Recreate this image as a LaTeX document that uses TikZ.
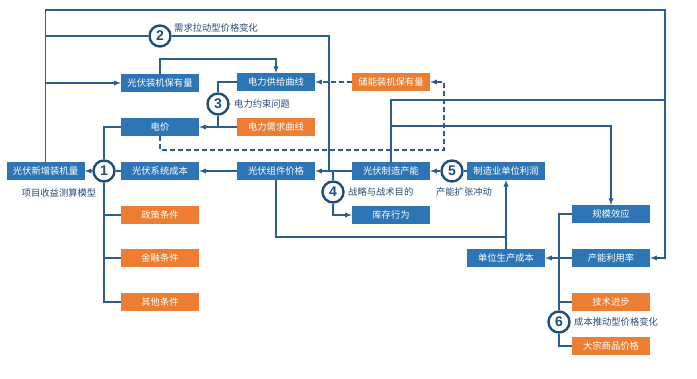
\documentclass[tikz,border=0pt]{standalone}
\usepackage{fontspec}
\setmainfont{Noto Sans CJK SC}
\newfontfamily\numfont{Liberation Sans}
\usetikzlibrary{arrows}
\definecolor{boxblue}{HTML}{2E75B6}
\definecolor{boxorange}{HTML}{ED7D31}
\definecolor{lineblue}{HTML}{2B5C92}
\definecolor{darkblue}{HTML}{1F4E79}
\definecolor{textblue}{HTML}{274B77}

\begin{document}
\begin{tikzpicture}[x=1pt,y=-1pt,>=latex,
  bx/.style={fill=boxblue,text=white,minimum width=78pt,minimum height=17.5pt,inner sep=0pt,font=\fontsize{9.3}{10}\selectfont},
  ox/.style={bx,fill=boxorange},
  num/.style={circle,draw=darkblue,line width=2.4pt,fill=white,minimum size=21pt,inner sep=0pt,text=darkblue,font=\numfont\bfseries\fontsize{14}{14}\selectfont},
  lab/.style={text=textblue,inner sep=0pt,font=\fontsize{9.3}{10}\selectfont},
  ln/.style={draw=lineblue,line width=1.3pt},
  dl/.style={ln,dashed,dash pattern=on 5pt off 3pt}]
 \useasboundingbox (0,0) rectangle (697,379);
 \node[bx] (xz) at (45.5,171) {光伏新增装机量};
 \node[bx] (cb) at (160,171) {光伏系统成本};
 \node[bx] (dj) at (160,127) {电价};
 \node[bx] (byl) at (160,83) {光伏装机保有量};
 \node[bx] (gj) at (276,82) {电力供给曲线};
 \node[ox] (xq) at (276,127) {电力需求曲线};
 \node[ox] (cn) at (391,82) {储能装机保有量};
 \node[bx] (zj) at (276,171) {光伏组件价格};
 \node[bx] (zz) at (391,171) {光伏制造产能};
 \node[bx] (kc) at (391,215) {库存行为};
 \node[bx] (lr) at (506,171) {制造业单位利润};
 \node[bx] (gm) at (611,214) {规模效应};
 \node[bx] (ly) at (611,258) {产能利用率};
 \node[bx] (dw) at (506,258) {单位生产成本};
 \node[ox] (js) at (611,302) {技术进步};
 \node[ox] (dz) at (611,346) {大宗商品价格};
 \node[ox] (zc) at (160,215) {政策条件};
 \node[ox] (jr) at (160,258) {金融条件};
 \node[ox] (qt) at (160,302) {其他条件};

 \coordinate (tr) at (665,10);
 \coordinate (j1) at (665,100);
 \coordinate (b1) at (392,126);
 \coordinate (j2) at (329,171);
 \coordinate (j3) at (506,237);
 \coordinate (dc) at (444,150);

 \draw[ln,->] (xz.north) |- (tr) |- (ly.east);
 \draw[ln] (zz.north) |- (j1);
 \draw[ln,->] (b1) -| (gm.north);
 \draw[ln,->] (xz.north |- byl.west) -- (byl.west);
 \draw[ln,->] (byl.north) -- ++(0,-15) -| (gj.north);
 \draw[ln,->] (zz.west) -- (zj.east);
 \draw[ln,->] (zj.west) -- (cb.east);
 \draw[ln,->] (zj.south) |- (j3) -- (lr.south);
 \draw[ln] (dw.north) -- (j3);
 \draw[ln,->] (ly.west) -- (dw.east);
 \draw[dl,->] (cn.west) -- (gj.east);
 \draw[dl,->] (dj.south) |- (dc) |- (cn.east);

 \node[num] (c1) at (104,171) {1};
 \node[num] (c2) at (160,36) {2};
 \node[num] (c3) at (218,104) {3};
 \node[num] (c4) at (333,192) {4};
 \node[num] (c5) at (452,171) {5};
 \node[num] (c6) at (559,322) {6};

 \draw[ln] (xz.north |- c2.west) -- (c2.west);
 \draw[ln] (c2.east) -| (j2);
 \draw[ln] (c4.north) -- (c4.north |- zj.east);
 \draw[ln,->] (c4.south) |- (kc.west);
 \draw[ln] (gj.west) -| (c3.north);
 \draw[ln,->] (c3.south) |- (dj.east);
 \draw[ln] (xq.west) -- (c3.south |- xq.west);
 \draw[ln] (dj.west) -| (c1.north);
 \draw[ln] (cb.west) -- (c1.east);
 \draw[ln,->] (c1.west) -- (xz.east);
 \draw[ln] (c1.south) |- (qt.west);
 \draw[ln] (c1.south |- zc.west) -- (zc.west);
 \draw[ln] (c1.south |- jr.west) -- (jr.west);
 \draw[ln] (lr.west) -- (c5.east);
 \draw[ln,->] (c5.west) -- (zz.east);
 \draw[ln] (gm.west) -| (c6.north);
 \draw[ln] (js.west) -- (c6.north |- js.west);
 \draw[ln] (c6.south) |- (dz.west);

 \node[lab,anchor=west] (l2) at (174,28) {需求拉动型价格变化};
 \node[lab,anchor=west] (l3) at (234,104) {电力约束问题};
 \node[lab,anchor=west] (l4) at (348,192) {战略与战术目的};
 \node[lab] (l5) at (464,192) {产能扩张冲动};
 \node[lab] (l1) at (59,193) {项目收益测算模型};
 \node[lab,anchor=west] (l6) at (574,322) {成本推动型价格变化};
\end{tikzpicture}
\end{document}
